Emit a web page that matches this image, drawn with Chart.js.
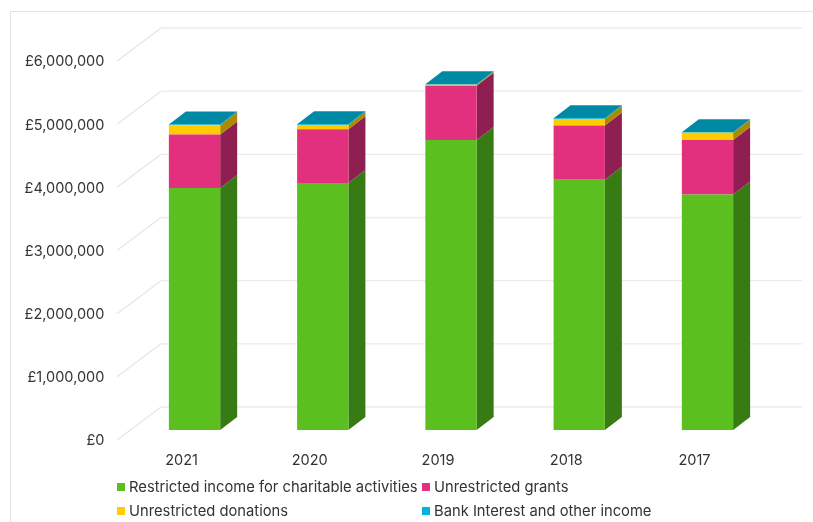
<!DOCTYPE html>
<html>
<head>
<meta charset="utf-8">
<title>Income by year</title>
<script src="https://cdn.jsdelivr.net/npm/chart.js@4"></script>
<style>
  body { margin: 0; background: #fff; }
  #wrap { position: relative; width: 813px; height: 522px; overflow: hidden; font-family: Inter, sans-serif; color: #333; }
  #frame { position: absolute; left: 10px; top: 11px; right: 0; bottom: 0; border-left: 1.5px solid #e4e4e4; border-top: 1.5px solid #e4e4e4; }
  canvas { position: absolute; left: 0; top: 0; }
  .item { position: absolute; font-size: 14.75px; line-height: 18px; white-space: nowrap; }
  .item i { position: absolute; left: -12px; top: 5px; width: 8px; height: 8px; }
</style>
</head>
<body>
<div id="wrap">
  <div id="frame"></div>
  <canvas id="chart" width="813" height="522"></canvas>
  <div id="legend"></div>
</div>
<script>
// data
let years = ["2021", "2020", "2019", "2018", "2017"];
let restricted = [3830000, 3910000, 4590000, 3960000, 3730000];
let grants = [850000, 850000, 860000, 860000, 860000];
let donations = [145000, 70000, 15000, 105000, 115000];
let bankInterest = [10000, 10000, 10000, 10000, 10000];
let yTickLabels = ["£0", "£1,000,000", "£2,000,000", "£3,000,000", "£4,000,000", "£5,000,000", "£6,000,000"];

// colours: front face, side face
let seriesNames = ["Restricted income for charitable activities", "Unrestricted grants", "Unrestricted donations", "Bank Interest and other income"];
let frontColors = ["#5bbf20", "#e3307e", "#ffcc00", "#00b6da"];
let sideColors = ["#387a14", "#8e1f50", "#a98a00", "#0089a5"];
let textColor = "#333333";

// how far the bars stick out backwards
let barDepth = { x: 17, y: -13 };
// grid floor, measured from the plane of the bars
let wallBack = { x: 30.6, y: -23 };
let wallFront = { x: -13.4, y: 10 };

let polygon = (ctx, points, color) => {
  ctx.fillStyle = color;
  ctx.beginPath();
  points.forEach((p, i) => (i ? ctx.lineTo(p[0], p[1]) : ctx.moveTo(p[0], p[1])));
  ctx.closePath();
  ctx.fill();
};

// 3D look: back wall lines, then side and top of every bar
let depthPlugin = {
  id: "depth",
  beforeDatasetsDraw(chart) {
    let ctx = chart.ctx;
    let yScale = chart.scales.y;
    let area = chart.chartArea;
    ctx.save();
    ctx.lineWidth = 1.3;
    yScale.ticks.forEach((tick) => {
      let y = yScale.getPixelForValue(tick.value);
      ctx.strokeStyle = "#e6e6e6";
      ctx.beginPath();
      ctx.moveTo(area.left + wallFront.x, y + wallFront.y);
      ctx.lineTo(area.left + wallBack.x, y + wallBack.y);
      ctx.stroke();
      ctx.strokeStyle = "#ebebeb";
      ctx.beginPath();
      ctx.moveTo(area.left + wallBack.x, y + wallBack.y);
      ctx.lineTo(area.right + wallBack.x, y + wallBack.y);
      ctx.stroke();
    });

    chart.data.datasets.forEach((dataset, d) => {
      chart.getDatasetMeta(d).data.forEach((bar) => {
        let right = bar.x + bar.width / 2;
        let left = bar.x - bar.width / 2;
        polygon(ctx, [
          [right, bar.y],
          [right, bar.base],
          [right + barDepth.x, bar.base + barDepth.y],
          [right + barDepth.x, bar.y + barDepth.y],
        ], sideColors[d]);
        if (d === chart.data.datasets.length - 1) {
          polygon(ctx, [
            [left, bar.y],
            [right, bar.y],
            [right + barDepth.x, bar.y + barDepth.y],
            [left + barDepth.x, bar.y + barDepth.y],
          ], sideColors[d]);
        }
      });
    });
    ctx.restore();
  },
};

let allSeries = [restricted, grants, donations, bankInterest];

new Chart(document.getElementById("chart"), {
  type: "bar",
  data: {
    labels: years,
    datasets: allSeries.map((values, i) => ({
      label: seriesNames[i],
      data: values,
      backgroundColor: frontColors[i],
      borderWidth: 0,
      barPercentage: 0.4,
      categoryPercentage: 1,
    })),
  },
  options: {
    responsive: false,
    animation: false,
    devicePixelRatio: 1,
    layout: { padding: { top: 51, right: 41.4, bottom: 0, left: 0 } },
    plugins: { legend: { display: false }, tooltip: { enabled: false } },
    scales: {
      x: {
        stacked: true,
        afterFit: (scale) => { scale.height = 92; },
        grid: { display: false },
        border: { display: false },
        ticks: { color: textColor, font: { family: "Inter", size: 14.5 }, padding: 14, labelOffset: -13, maxRotation: 0 },
      },
      y: {
        stacked: true,
        min: 0,
        max: 6000000,
        afterFit: (scale) => { scale.width = 130.4; },
        grid: { display: false, drawTicks: false },
        border: { display: false },
        ticks: {
          stepSize: 1000000,
          color: textColor,
          font: { family: "Inter", size: 14.5 },
          padding: 26,
          labelOffset: 11,
          callback: (value, index) => yTickLabels[index],
        },
      },
    },
  },
  plugins: [depthPlugin],
});

// legend sits on a two column grid, so it is built by hand
let legendBox = document.getElementById("legend");
let legendColumns = [129, 434];
let legendRows = [478, 502];
seriesNames.forEach((name, i) => {
  let item = document.createElement("div");
  item.className = "item";
  item.style.left = legendColumns[i % 2] + "px";
  item.style.top = legendRows[Math.floor(i / 2)] + "px";
  item.innerHTML = `<i style="background:${frontColors[i]}"></i>${name}`;
  legendBox.appendChild(item);
});
</script>
</body>
</html>
